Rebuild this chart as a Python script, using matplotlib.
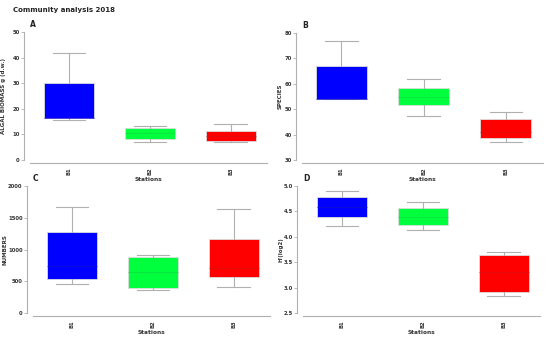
import matplotlib
matplotlib.use('Agg')
import matplotlib.pyplot as plt

stations = ['B1', 'B2', 'B3']
colors = ['#0000ff', '#00ff3c', '#ff0000']
median_colors = ['#1010d0', '#10d840', '#d81010']

# (whislo, q1, med, q3, whishi) per station
biomass = [(15.5, 16.5, 16.5, 30.2, 41.8), (7.0, 8.2, 10.5, 12.5, 13.3), (7.0, 7.5, 9.5, 11.5, 14.0)]
species = [(54.0, 54.0, 54.0, 67.0, 77.0), (47.5, 51.5, 55.0, 58.5, 62.0), (37.0, 38.5, 41.0, 46.0, 49.0)]
numbers = [(460, 530, 740, 1280, 1670), (360, 400, 650, 880, 910), (410, 560, 710, 1170, 1630)]
shannon = [(4.22, 4.38, 4.59, 4.78, 4.90), (4.14, 4.23, 4.39, 4.56, 4.68), (2.83, 2.92, 3.30, 3.65, 3.71)]

# letter, data, y label, y limits, y ticks, axes box in pixels, y label x in pixels
panels = [
    ('A', biomass, 'ALGAL BIOMASS g (d.w.)', (0, 50), [0, 10, 20, 30, 40, 50], (30, 32, 267, 160), 6),
    ('B', species, 'SPECIES', (30, 80), [30, 40, 50, 60, 70, 80], (302, 33, 543, 160), 283),
    ('C', numbers, 'NUMBERS', (0, 2000), [0, 500, 1000, 1500, 2000], (33, 186, 270, 313), 8),
    ('D', shannon, "H'(log2)", (2.5, 5.0), [2.5, 3.0, 3.5, 4.0, 4.5, 5.0], (303, 186, 540, 313), 283),
]

W, H = 550, 339
fig = plt.figure(figsize=(W / 100, H / 100), dpi=100)
fig.text(13 / W, 1 - 10 / H, 'Community analysis 2018', fontsize=5, fontweight='bold',
         va='center', ha='left', color='#222222')

for letter, data, ylab, ylim, yticks, (x0, y0, x1, y1), ylx in panels:
    ax = fig.add_axes([x0 / W, 1 - y1 / H, (x1 - x0) / W, (y1 - y0) / H])
    stats = []
    for name, (lo, q1, med, q3, hi) in zip(stations, data):
        stats.append({'label': name, 'whislo': lo, 'q1': q1, 'med': med, 'q3': q3, 'whishi': hi, 'fliers': []})
    bp = ax.bxp(stats, positions=[1, 2, 3], widths=0.62, patch_artist=True, showfliers=False,
                boxprops=dict(edgecolor='#dddddd', linewidth=0.6),
                whiskerprops=dict(color='#b0b0b0', linewidth=0.8),
                capprops=dict(color='#b0b0b0', linewidth=0.8),
                medianprops=dict(linewidth=0.5))
    ax.set_xticks([1, 2, 3])
    for patch, c in zip(bp['boxes'], colors):
        patch.set_facecolor(c)
    for med, c in zip(bp['medians'], median_colors):
        med.set_color(c)
    for cap in bp['caps']:
        xs = cap.get_xdata()
        mid = (xs[0] + xs[1]) / 2
        cap.set_xdata([mid - 0.2, mid + 0.2])
    ax.set_xlim(0.52, 3.45)
    ax.set_ylim(*ylim)
    ax.set_yticks(yticks)
    ax.set_yticklabels([('%g' % t) if ylim[1] > 10 else '%.1f' % t for t in yticks])
    for s in ['top', 'right']:
        ax.spines[s].set_visible(False)
    ax.spines['left'].set_position(('outward', 4))
    ax.spines['bottom'].set_position(('outward', 2.5))
    for s in ['left', 'bottom']:
        ax.spines[s].set_color('#b0b0b0')
        ax.spines[s].set_linewidth(0.8)
    ax.tick_params(axis='both', length=2, width=0.6, color='#b0b0b0', labelsize=3.8,
                   labelcolor='#333333', pad=1.5)
    ax.tick_params(axis='x', labelrotation=90, length=0, pad=3)
    for lbl in ax.get_xticklabels() + ax.get_yticklabels():
        lbl.set_fontweight('bold')
    ax.set_ylabel(ylab, fontsize=4.0, fontweight='bold', color='#333333')
    ax.yaxis.set_label_coords((ylx - x0) / (x1 - x0), 0.5)
    ax.set_xlabel('Stations', fontsize=4.2, fontweight='bold', color='#333333', labelpad=1)
    ax.text(0.0, 1.06, letter, transform=ax.transAxes, fontsize=5.5, fontweight='bold',
            color='#222222', ha='left', va='center')

fig.savefig('out.png', dpi=100)
